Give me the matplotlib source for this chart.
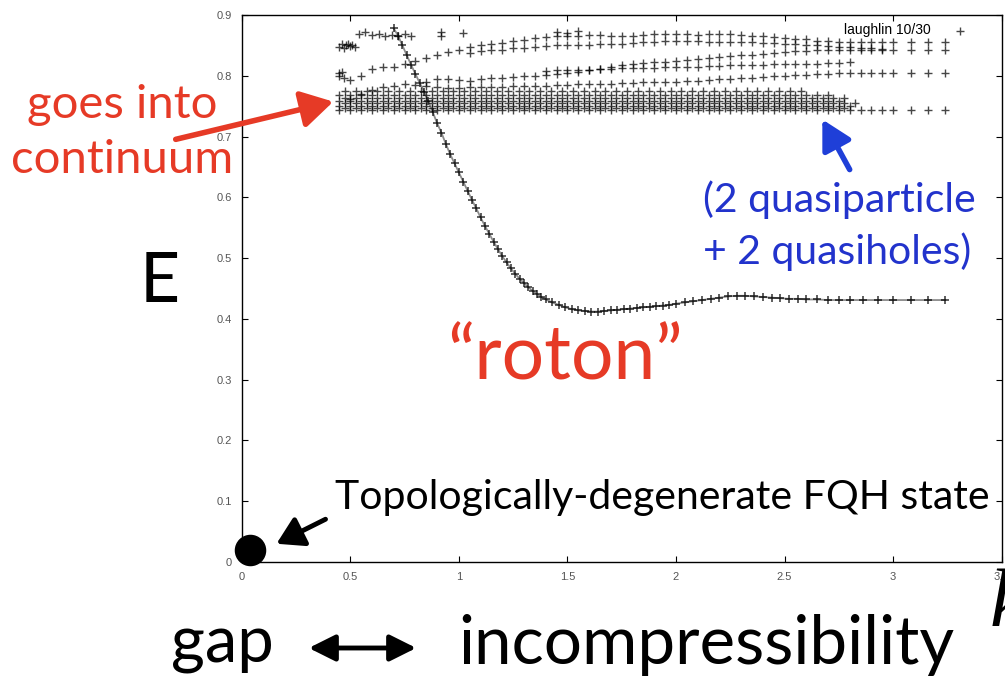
import numpy as np
import matplotlib
matplotlib.use("Agg")
import matplotlib.pyplot as plt

# ---------------- data ----------------
K = [0.45, 0.50, 0.55, 0.60, 0.65, 0.70, 0.75, 0.80, 0.85, 0.90,
     0.95, 1.00, 1.05, 1.10, 1.15, 1.20, 1.25, 1.30, 1.35, 1.40,
     1.45, 1.50, 1.55, 1.60, 1.65, 1.70, 1.75, 1.80, 1.85, 1.90,
     1.95, 2.00, 2.05, 2.10, 2.15, 2.20, 2.25, 2.30, 2.35, 2.40,
     2.45, 2.50, 2.55, 2.60, 2.65, 2.70, 2.75, 2.80, 2.85, 2.90,
     2.95]
K_half = [0.475, 0.525, 0.575, 0.625, 0.675, 0.725, 0.775, 0.825, 0.875, 0.925,
          0.975, 1.025, 1.075, 1.125, 1.175, 1.225, 1.275, 1.325, 1.375, 1.425,
          1.475, 1.525, 1.575, 1.625, 1.675, 1.725, 1.775, 1.825, 1.875, 1.925,
          1.975, 2.025, 2.075, 2.125, 2.175, 2.225, 2.275, 2.325, 2.375, 2.425,
          2.475, 2.525, 2.575, 2.625, 2.675, 2.725, 2.775, 2.825, 2.875, 2.925]

band_C = [0.805, 0.793, 0.800, 0.811, 0.814, 0.815, 0.819, 0.825, 0.830, 0.834,
          0.839, 0.843, 0.848, 0.851, 0.852, 0.854, 0.857, 0.859, 0.862, 0.864,
          0.865, 0.866, 0.866, 0.867, 0.867, 0.866, 0.865, 0.866, 0.867, 0.868,
          0.868, 0.869, 0.868, 0.867, 0.868, 0.869, 0.868, 0.867, 0.866, 0.865,
          0.864, 0.862, 0.861, 0.860, 0.858, 0.857, 0.856, 0.856, 0.856, 0.856,
          0.856]
band_F = [None, None, None, None, None, None, None, None, None, None,
          None, None, 0.838, 0.840, 0.842, 0.843, 0.845, 0.846, 0.848, 0.849,
          0.850, 0.850, 0.851, 0.851, 0.852, 0.852, 0.853, 0.854, 0.855, 0.856,
          0.857, 0.857, 0.857, 0.857, 0.856, 0.856, 0.855, 0.855, 0.855, 0.854,
          0.854, 0.853, 0.852, 0.851, 0.850, 0.849, 0.848, 0.847, 0.846, 0.845,
          0.844]
band_D = [None, None, None, None, None, None, None, None, 0.790, 0.795,
          0.795, 0.793, 0.792, 0.794, 0.796, 0.797, 0.798, 0.799, 0.800, 0.801,
          0.803, 0.805, 0.807, 0.809, 0.811, 0.814, 0.817, 0.819, 0.821, 0.822,
          0.823, 0.824, 0.826, 0.827, 0.829, 0.831, 0.833, 0.834, 0.835, 0.836,
          0.838, 0.839, 0.840, 0.841, 0.842, 0.842, 0.842, 0.842, 0.842, 0.842,
          0.842]
band_G = [None, None, None, None, None, None, None, None, None, None,
          None, None, None, None, None, None, None, None, None, 0.808,
          0.809, 0.809, 0.810, 0.810, 0.811, 0.811, 0.812, 0.812, 0.813, 0.813,
          0.814, 0.814, 0.815, 0.815, 0.816, 0.816, 0.817, 0.817, 0.818, 0.818,
          0.819, 0.819, 0.820, 0.820, 0.820, 0.821, 0.821, 0.822, None, None,
          None]
band_E = [None, 0.762, 0.770, 0.777, 0.781, 0.784, 0.786, 0.785, 0.783, 0.781,
          0.780, 0.780, 0.781, 0.781, 0.782, 0.782, 0.783, 0.783, 0.784, 0.784,
          0.785, 0.785, 0.786, 0.786, 0.787, 0.787, 0.788, 0.788, 0.789, 0.789,
          0.790, 0.790, 0.791, 0.792, 0.793, 0.794, 0.795, 0.796, 0.797, 0.798,
          0.799, 0.800, 0.801, 0.802, 0.803, 0.803, 0.804, 0.804, 0.804, 0.804,
          0.804]

# flat, densely populated continuum rows: (energy level, last k, use half-step k)
row_E = [0.744, 0.747, 0.751, 0.755, 0.759, 0.764, 0.769, 0.775]
row_kmax = [2.95, 2.80, 2.80, 2.85, 2.75, 2.80, 2.70, 2.60]
row_half = [False, True, False, True, False, True, False, True]

top_left_k = [0.45, 0.46, 0.47, 0.48, 0.49, 0.50, 0.51, 0.52, 0.45, 0.46, 0.47]
top_left_E = [0.848, 0.852, 0.846, 0.850, 0.853, 0.849, 0.851, 0.848, 0.800, 0.806, 0.797]
top_row_k = [0.54, 0.57, 0.60, 0.63, 0.66, 0.69, 0.72, 0.75, 0.78, 0.92, 0.92, 1.02, 1.45, 1.50, 1.55, 3.31]
top_row_E = [0.868, 0.872, 0.867, 0.868, 0.866, 0.867, 0.866, 0.868, 0.866, 0.872, 0.865, 0.870, 0.872, 0.871, 0.873, 0.873]

right_k = [3.00, 3.08, 3.16, 3.24]
right_rows_E = [0.856, 0.842, 0.804, 0.744]

roton_k = [0.70, 0.72, 0.74, 0.76, 0.78, 0.80, 0.82, 0.84, 0.86, 0.88,
           0.90, 0.92, 0.94, 0.96, 0.98, 1.00, 1.02, 1.04, 1.06, 1.08,
           1.10, 1.12, 1.14, 1.16, 1.18, 1.20, 1.22, 1.24, 1.26, 1.28,
           1.30, 1.32, 1.34, 1.36, 1.38, 1.40, 1.43, 1.46, 1.49, 1.52,
           1.55, 1.58, 1.61, 1.64, 1.67, 1.70, 1.73, 1.76, 1.79, 1.82,
           1.85, 1.88, 1.91, 1.94, 1.97, 2.00, 2.04, 2.08, 2.12, 2.16,
           2.20, 2.24, 2.28, 2.32, 2.36, 2.40, 2.44, 2.48, 2.52, 2.56,
           2.60, 2.65, 2.70, 2.75, 2.80, 2.86, 2.93, 3.00, 3.08, 3.16, 3.24]
roton_E = [0.878, 0.866, 0.850, 0.834, 0.818, 0.803, 0.788, 0.774, 0.758, 0.740,
           0.722, 0.706, 0.688, 0.671, 0.656, 0.641, 0.626, 0.611, 0.596, 0.582,
           0.567, 0.553, 0.540, 0.527, 0.515, 0.503, 0.493, 0.483, 0.474, 0.466,
           0.459, 0.452, 0.446, 0.441, 0.436, 0.432, 0.427, 0.423, 0.419, 0.416,
           0.414, 0.413, 0.412, 0.412, 0.413, 0.414, 0.415, 0.416, 0.417, 0.418,
           0.419, 0.420, 0.421, 0.422, 0.423, 0.425, 0.427, 0.429, 0.431, 0.433,
           0.435, 0.437, 0.438, 0.438, 0.437, 0.436, 0.435, 0.434, 0.433, 0.433,
           0.432, 0.432, 0.431, 0.431, 0.431, 0.431, 0.431, 0.431, 0.431, 0.431, 0.431]

ground_k = [0.038]
ground_E = [0.02]

x_ticks = [0, 0.5, 1, 1.5, 2, 2.5, 3, 3.5]
x_ticklabels = ["0", "0.5", "1", "1.5", "2", "2.5", "3", "3.5"]
y_ticks = [0, 0.1, 0.2, 0.3, 0.4, 0.5, 0.6, 0.7, 0.8, 0.9]
y_ticklabels = ["0", "0.1", "0.2", "0.3", "0.4", "0.5", "0.6", "0.7", "0.8", "0.9"]

# ---------------- figure ----------------
W, H = 1005, 686
fig = plt.figure(figsize=(W / 100, H / 100), dpi=100)
fig.patch.set_facecolor("white")

L, R, T, B = 241.7, 1001.7, 15, 562
ax = fig.add_axes([L / W, 1 - B / H, (R - L) / W, (B - T) / H])
ax.set_xlim(0, 3.5)
ax.set_ylim(0, 0.9)

mk = dict(marker="+", linestyle="none", color="black", markersize=5.5, mew=1.0, alpha=0.72)

Karr = np.array(K)
Kh = np.array(K_half)
for band in (band_C, band_F, band_D, band_G, band_E):
    ax.plot(Karr, np.array(band, dtype=float), **mk)
for e, kmax, half in zip(row_E, row_kmax, row_half):
    kk = Kh if half else Karr
    sel = kk <= kmax + 1e-9
    ax.plot(kk[sel], np.full(sel.sum(), e), **mk)
ax.plot(top_left_k, top_left_E, **mk)
ax.plot(top_row_k, top_row_E, **mk)
for e in right_rows_E:
    ax.plot(right_k, [e] * len(right_k), **mk)
ax.plot(roton_k, roton_E, color="black", lw=1.3, alpha=0.45)
ax.plot(roton_k, roton_E, marker="+", linestyle="none", color="black",
        markersize=5.5, mew=1.1, alpha=0.8)

ax.scatter(ground_k, ground_E, s=470, color="black", zorder=10, clip_on=False)

ax.set_xticks(x_ticks)
ax.set_xticklabels(x_ticklabels)
ax.set_yticks(y_ticks)
ax.set_yticklabels(y_ticklabels)
ax.tick_params(direction="in", length=4, width=0.8, top=True, right=True,
               labelsize=8, labelcolor="#555555", pad=7)
for lab in ax.get_xticklabels() + ax.get_yticklabels():
    lab.set_family("Liberation Sans")
for s in ax.spines.values():
    s.set_linewidth(1.0)

ax.text(0.906, 0.985, "laughlin 10/30", transform=ax.transAxes, fontsize=10,
        family="Liberation Sans", ha="right", va="top")


def fx(px):
    return px / W


def fy(py):
    return 1 - py / H


RED = "#e63a26"
BLUE = "#2233cc"
SANS = "Lato"

fig.text(fx(122), fy(105), "goes into", color=RED, fontsize=34, family=SANS, ha="center", va="center")
fig.text(fx(122), fy(160), "continuum", color=RED, fontsize=34, family=SANS, ha="center", va="center")
fig.text(fx(160), fy(282), "E", color="black", fontsize=50, family=SANS, ha="center", va="center")
fig.text(fx(565), fy(358), "\u201croton\u201d", color=RED, fontsize=54, family=SANS, ha="center", va="center")
fig.text(fx(703), fy(200), "(2 quasiparticle", color=BLUE, fontsize=29.5, family=SANS, ha="left", va="center")
fig.text(fx(703), fy(252), "+ 2 quasiholes)", color=BLUE, fontsize=29.5, family=SANS, ha="left", va="center")
fig.text(fx(335), fy(497), "Topologically-degenerate FQH state", color="black", fontsize=29.5,
         family=SANS, ha="left", va="center")
fig.text(fx(222), fy(645), "gap", color="black", fontsize=47, family=SANS, ha="center", va="center")
fig.text(fx(458), fy(645), "incompressibility", color="black", fontsize=48.5, family=SANS,
         ha="left", va="center")
fig.text(fx(990), fy(606), "k", color="black", fontsize=60, family="Liberation Serif",
         style="italic", ha="left", va="center")

# arrows
fig.add_artist(matplotlib.patches.FancyArrowPatch(
    (fx(173), fy(140)), (fx(336), fy(101)), transform=fig.transFigure,
    arrowstyle="-|>,head_length=12,head_width=7", lw=4, color=RED, mutation_scale=1.6))
fig.add_artist(matplotlib.patches.FancyArrowPatch(
    (fx(851), fy(172)), (fx(821), fy(117)), transform=fig.transFigure,
    arrowstyle="-|>,head_length=11,head_width=6", lw=4, color="#1f3fd8", mutation_scale=1.6))
fig.add_artist(matplotlib.patches.FancyArrowPatch(
    (fx(328), fy(518)), (fx(274), fy(545)), transform=fig.transFigure,
    arrowstyle="-|>,head_length=10,head_width=6", lw=3.5, color="black", mutation_scale=1.6))
fig.add_artist(matplotlib.patches.FancyArrowPatch(
    (fx(306), fy(648)), (fx(419), fy(648)), transform=fig.transFigure,
    arrowstyle="<|-|>,head_length=10,head_width=5", lw=3.5, color="black", mutation_scale=1.6))

fig.savefig("out.png", dpi=100, facecolor="white")
